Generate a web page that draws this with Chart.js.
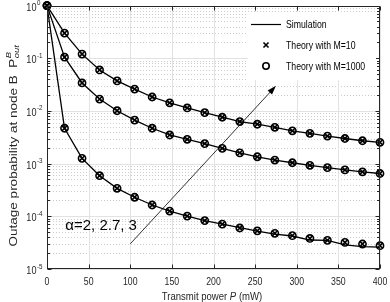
<!DOCTYPE html>
<html>
<head>
<meta charset="utf-8">
<script src="https://cdn.jsdelivr.net/npm/chart.js@4.4.1/dist/chart.umd.min.js"></script>
<style>
  html, body { margin: 0; padding: 0; background: #fff; }
  #wrap { width: 390px; height: 302px; position: relative; }
</style>
</head>
<body>
<div id="wrap"><canvas id="grafOutage"></canvas></div>
<script>
// transmit power (mW), 20 points from 0 to 400
const power = [0, 21.05, 42.11, 63.16, 84.21, 105.26, 126.32, 147.37, 168.42, 189.47,
  210.53, 231.58, 252.63, 273.68, 294.74, 315.79, 336.84, 357.89, 378.95, 400]

// theory (markers x and o sit on the same values)
const theoryA2 = [1, 0.30, 0.12, 0.060, 0.0372, 0.026, 0.0184, 0.0143, 0.0114, 0.0093,
  0.0076, 0.0063, 0.0056, 0.0049, 0.0042, 0.00376, 0.00334, 0.0030, 0.00272, 0.00254]
const theoryA27 = [1, 0.105, 0.034, 0.0168, 0.0101, 0.0067, 0.0047, 0.0035, 0.0029, 0.0024,
  0.00195, 0.0016, 0.00135, 0.00117, 0.00104, 0.00093, 0.00084, 0.00076, 0.0007, 0.00065]
const theoryA3 = [1, 0.0047, 0.00126, 0.00059, 0.00034, 0.00023, 0.000164, 0.000126, 0.000101, 0.000083,
  0.000071, 0.00006, 0.000053, 0.0000475, 0.000043, 0.000038, 0.000035, 0.000032, 0.0000298, 0.0000277]

// simulation curves
const simA2 = [1, 0.30, 0.12, 0.060, 0.0372, 0.026, 0.0184, 0.0143, 0.0114, 0.0093,
  0.0076, 0.0063, 0.0056, 0.0049, 0.0042, 0.00376, 0.00334, 0.0030, 0.00272, 0.00254]
const simA27 = [1, 0.105, 0.034, 0.0168, 0.0101, 0.0067, 0.0047, 0.0035, 0.0029, 0.0024,
  0.00195, 0.0016, 0.00135, 0.00117, 0.00104, 0.00093, 0.00084, 0.00076, 0.0007, 0.00065]
const simA3 = [1, 0.0047, 0.00126, 0.00059, 0.00034, 0.00023, 0.000164, 0.000126, 0.000101, 0.000083,
  0.000071, 0.000061, 0.0000526, 0.0000461, 0.0000423, 0.0000355, 0.000035, 0.0000286, 0.0000265, 0.0000261]

const xTicks = [0, 50, 100, 150, 200, 250, 300, 350, 400]
const yDecades = [1e-5, 1e-4, 1e-3, 1e-2, 1e-1, 1]

const legendLabels = ['Simulation', 'Theory with M=10', 'Theory with M=1000']
const alphaNote = 'α=2, 2.7, 3'

const FONT = '"Liberation Sans", Arial, Helvetica, sans-serif'
const SX = 0.83   // the figure is squeezed horizontally
const INK = '#262626'

const pts = arr => arr.map((v, i) => ({ x: power[i], y: v }))

const yTickList = []
yDecades.forEach(d => {
  yTickList.push({ value: d, major: true })
  if (d < 1) for (let k = 2; k <= 9; k++) yTickList.push({ value: d * k, major: false })
})

function sText(ctx, txt, x, y, size, align, style) {
  ctx.save()
  ctx.font = (style || '') + ' ' + size + 'px ' + FONT
  ctx.translate(x, y)
  ctx.scale(SX, 1)
  ctx.textAlign = align
  ctx.textBaseline = 'alphabetic'
  ctx.fillText(txt, 0, 0)
  ctx.restore()
}

const matlabAxes = {
  id: 'matlabAxes',
  beforeDatasetsDraw(chart) {
    const { ctx, chartArea: a, scales: { x, y } } = chart
    ctx.save()
    ctx.lineWidth = 1
    // minor grid, dotted
    ctx.strokeStyle = '#cdcdcd'
    ctx.setLineDash([1, 2])
    y.ticks.filter(t => !t.major).forEach(t => {
      const py = Math.round(y.getPixelForValue(t.value)) + 0.5
      ctx.beginPath(); ctx.moveTo(a.left, py); ctx.lineTo(a.right, py); ctx.stroke()
    })
    // major grid
    ctx.setLineDash([])
    ctx.strokeStyle = '#e2e2e2'
    y.ticks.filter(t => t.major).forEach(t => {
      const py = Math.round(y.getPixelForValue(t.value)) + 0.5
      ctx.beginPath(); ctx.moveTo(a.left, py); ctx.lineTo(a.right, py); ctx.stroke()
    })
    x.ticks.forEach(t => {
      const px = Math.round(x.getPixelForValue(t.value)) + 0.5
      ctx.beginPath(); ctx.moveTo(px, a.top); ctx.lineTo(px, a.bottom); ctx.stroke()
    })
    ctx.restore()
  },
  afterDatasetsDraw(chart) {
    const { ctx, chartArea: a, scales: { x, y } } = chart
    ctx.save()
    const L = Math.round(a.left) + 0.5, R = Math.round(a.right) - 0.5
    const T = Math.round(a.top) + 0.5, B = Math.round(a.bottom) - 0.5
    ctx.strokeStyle = INK
    ctx.lineWidth = 1
    ctx.strokeRect(L, T, R - L, B - T)

    // ticks
    ctx.beginPath()
    x.ticks.forEach(t => {
      const px = Math.round(x.getPixelForValue(t.value)) + 0.5
      ctx.moveTo(px, B); ctx.lineTo(px, B - 4)
      ctx.moveTo(px, T); ctx.lineTo(px, T + 4)
    })
    y.ticks.forEach(t => {
      const py = Math.round(y.getPixelForValue(t.value)) + 0.5
      const len = t.major ? 4 : 2.5
      ctx.moveTo(L, py); ctx.lineTo(L + len, py)
      ctx.moveTo(R, py); ctx.lineTo(R - len, py)
    })
    ctx.stroke()

    // tick labels
    ctx.fillStyle = INK
    x.ticks.forEach(t => {
      sText(ctx, String(t.value), x.getPixelForValue(t.value), 285, 10.5, 'center')
    })
    y.ticks.filter(t => t.major).forEach(t => {
      const py = y.getPixelForValue(t.value)
      sText(ctx, '10', 36.5, py + 5, 11, 'right')
      sText(ctx, String(Math.round(Math.log10(t.value))), 37, py - 0.5, 7.5, 'left')
    })

    // axis titles
    ctx.font = '11.5px ' + FONT
    const w1 = ctx.measureText('Transmit power ').width
    ctx.font = 'italic 11.5px ' + FONT
    const w2 = ctx.measureText('P').width
    ctx.font = '11.5px ' + FONT
    const w3 = ctx.measureText(' (mW)').width
    let tx = 212 - (w1 + w2 + w3) * SX / 2
    sText(ctx, 'Transmit power ', tx, 299.5, 11.5, 'left'); tx += w1 * SX
    sText(ctx, 'P', tx, 299.5, 11.5, 'left', 'italic'); tx += w2 * SX
    sText(ctx, ' (mW)', tx, 299.5, 11.5, 'left')

    ctx.save()
    ctx.translate(16.5, 0)
    ctx.scale(SX, 1)
    ctx.rotate(-Math.PI / 2)
    ctx.font = '13.5px ' + FONT
    const main = 'Outage probability at node B  '
    const m1 = ctx.measureText(main).width
    const m2 = ctx.measureText('P').width
    ctx.font = 'italic 9.5px ' + FONT
    const m3 = ctx.measureText('out').width
    let ty = -(146 + (m1 + m2 + m3) / 2)
    ctx.font = '13.5px ' + FONT
    ctx.textAlign = 'left'
    ctx.fillText(main, ty, 0); ty += m1
    ctx.fillText('P', ty, 0); ty += m2 + 0.5
    ctx.font = 'italic 9.5px ' + FONT
    ctx.fillText('B', ty, -6.5)
    ctx.fillText('out', ty, 3)
    ctx.restore()

    // legend
    ctx.fillStyle = '#fff'
    ctx.fillRect(248, 12, 128, 68)
    ctx.strokeStyle = '#000'
    ctx.lineWidth = 1.2
    ctx.beginPath(); ctx.moveTo(251, 24.5); ctx.lineTo(281, 24.5); ctx.stroke()
    ctx.lineWidth = 1.6
    Chart.helpers.drawPoint(ctx, { pointStyle: 'crossRot', radius: 3.6, rotation: 0, borderWidth: 1.6 }, 266, 45)
    Chart.helpers.drawPoint(ctx, { pointStyle: 'circle', radius: 3.2, rotation: 0, borderWidth: 1.6 }, 266, 66)
    ctx.fillStyle = '#000'
    const ly = [28, 49, 70]
    legendLabels.forEach((s, i) => sText(ctx, s, 286, ly[i], 10.5, 'left'))

    // arrow annotation
    const ax0 = x.getPixelForValue(100), ay0 = y.getPixelForValue(3e-5)
    const ax1 = x.getPixelForValue(275), ay1 = y.getPixelForValue(0.03)
    const ang = Math.atan2(ay1 - ay0, ax1 - ax0)
    ctx.strokeStyle = '#000'
    ctx.lineWidth = 0.8
    ctx.beginPath(); ctx.moveTo(ax0, ay0); ctx.lineTo(ax1 - 6 * Math.cos(ang), ay1 - 6 * Math.sin(ang)); ctx.stroke()
    ctx.beginPath()
    ctx.moveTo(ax1, ay1)
    ctx.lineTo(ax1 - 9 * Math.cos(ang) + 3 * Math.sin(ang), ay1 - 9 * Math.sin(ang) - 3 * Math.cos(ang))
    ctx.lineTo(ax1 - 9 * Math.cos(ang) - 3 * Math.sin(ang), ay1 - 9 * Math.sin(ang) + 3 * Math.cos(ang))
    ctx.closePath()
    ctx.fillStyle = '#000'
    ctx.fill()

    ctx.font = '15px ' + FONT
    ctx.textAlign = 'left'
    ctx.fillText(alphaNote, x.getPixelForValue(22), y.getPixelForValue(5.4e-5))
    ctx.restore()
  }
}

const simSeries = [simA2, simA27, simA3]
const theorySeries = [theoryA2, theoryA27, theoryA3]

const datasets = []
simSeries.forEach(s => datasets.push({
  label: legendLabels[0], data: pts(s), borderColor: '#000', borderWidth: 1.3,
  pointRadius: 0, tension: 0, clip: false
}))
theorySeries.forEach(s => datasets.push({
  label: legendLabels[1], data: pts(s), showLine: false, pointStyle: 'crossRot',
  pointRadius: 4, pointBorderColor: '#000', pointBorderWidth: 1.6, pointBackgroundColor: 'transparent', clip: false
}))
theorySeries.forEach(s => datasets.push({
  label: legendLabels[2], data: pts(s), showLine: false, pointStyle: 'circle',
  pointRadius: 3.6, pointBorderColor: '#000', pointBorderWidth: 1.6, pointBackgroundColor: 'transparent', clip: false
}))

new Chart(document.getElementById('grafOutage'), {
  type: 'line',
  data: { datasets },
  plugins: [matlabAxes],
  options: {
    responsive: true,
    maintainAspectRatio: false,
    animation: false,
    events: [],
    layout: { padding: { top: 5, right: 10, left: 0, bottom: 0 } },
    plugins: { legend: { display: false }, tooltip: { enabled: false } },
    scales: {
      x: {
        type: 'linear', min: 0, max: 400,
        afterBuildTicks: s => { s.ticks = xTicks.map(v => ({ value: v })) },
        afterFit: s => { s.height = 33 },
        ticks: { display: false }, grid: { display: false }, border: { display: false }
      },
      y: {
        type: 'logarithmic', min: 1e-5, max: 1,
        afterBuildTicks: s => { s.ticks = yTickList.map(t => ({ ...t })) },
        afterFit: s => { s.width = 47 },
        ticks: { display: false }, grid: { display: false }, border: { display: false }
      }
    }
  }
})
</script>
</body>
</html>
